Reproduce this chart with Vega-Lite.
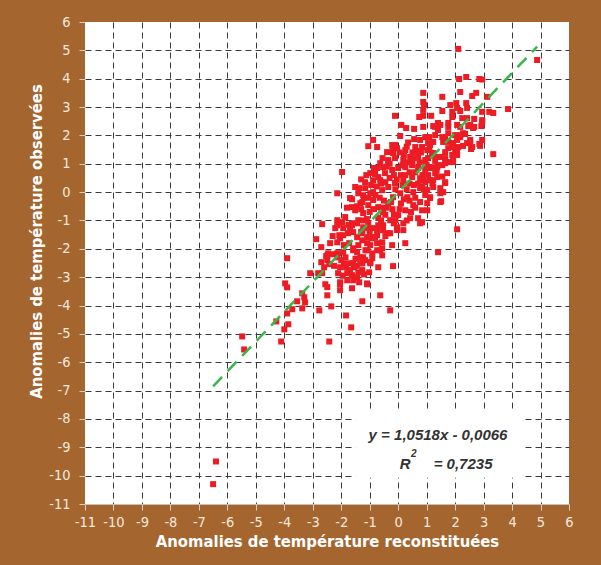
{
  "$schema": "https://vega.github.io/schema/vega-lite/v6.json",
  "width": 484,
  "height": 482,
  "autosize": "none",
  "padding": {"left": 85, "top": 22, "right": 32, "bottom": 61},
  "background": "#A5652F",
  "config": {
    "view": {"fill": "white", "stroke": null},
    "axis": {
      "labelFont": "DejaVu Sans Condensed, sans-serif",
      "labelFontSize": 14.5,
      "labelColor": "#F4E8DC",
      "labelOverlap": false,
      "labelBound": false,
      "labelFlush": false,
      "titleFont": "DejaVu Sans Condensed, sans-serif",
      "titleFontSize": 16.5,
      "titleFontWeight": "bold",
      "titleColor": "#FFFFFF",
      "grid": true,
      "gridDash": [6, 4],
      "gridWidth": 1,
      "gridColor": {"condition": {"test": "datum.value == -11 || datum.value == 6", "value": "transparent"}, "value": "#3A3A3A"},
      "tickColor": "#D9CCC0",
      "tickSize": 6,
      "domain": false
    }
  },
  "datasets": {
    "points": [
      {"x": -6.5, "y": -10.3}, {"x": -6.4, "y": -9.5}, {"x": -5.48, "y": -5.09}, {"x": -5.41, "y": -5.55},
      {"x": -4.11, "y": -5.27}, {"x": -4.0, "y": -4.84}, {"x": -3.86, "y": -4.66}, {"x": -4.28, "y": -4.56},
      {"x": -3.9, "y": -4.28}, {"x": -3.72, "y": -4.13}, {"x": -3.37, "y": -4.1}, {"x": -3.27, "y": -3.89},
      {"x": -3.55, "y": -3.85}, {"x": -3.3, "y": -3.71}, {"x": -3.37, "y": -3.57}, {"x": -3.97, "y": -3.22},
      {"x": -3.9, "y": -3.36}, {"x": -3.9, "y": -2.33}, {"x": -2.77, "y": -4.17}, {"x": -2.42, "y": -5.27},
      {"x": -2.35, "y": -4.03}, {"x": -2.49, "y": -3.64}, {"x": -2.56, "y": -3.25}, {"x": -1.83, "y": -4.35},
      {"x": -1.65, "y": -4.77}, {"x": -1.26, "y": -3.85}, {"x": -0.63, "y": -3.64}, {"x": -0.28, "y": -4.17},
      {"x": 1.4, "y": -2.12}, {"x": 2.07, "y": -1.31}, {"x": 3.34, "y": 1.34}, {"x": 3.86, "y": 2.93},
      {"x": 4.88, "y": 4.66}, {"x": 2.11, "y": 5.05}, {"x": -3.09, "y": -2.86}, {"x": -2.81, "y": -2.86},
      {"x": -2.7, "y": -2.47}, {"x": -2.67, "y": -1.13}, {"x": -2.88, "y": -1.66}, {"x": -2.49, "y": -2.23},
      {"x": -2.42, "y": -2.54}, {"x": -2.6, "y": -2.65}, {"x": -2.53, "y": -2.26}, {"x": -2.39, "y": -1.8},
      {"x": -2.04, "y": -3.25}, {"x": -1.62, "y": -3.39}, {"x": -1.09, "y": -3.25}, {"x": -1.02, "y": -2.83},
      {"x": -0.56, "y": -2.23}, {"x": -0.18, "y": -2.61}, {"x": 0.25, "y": -1.8}, {"x": 0.77, "y": -1.1},
      {"x": 0.84, "y": -1.06}, {"x": 0.84, "y": -0.64}, {"x": 1.02, "y": -0.39}, {"x": 1.51, "y": -0.32},
      {"x": 1.12, "y": -0.18}, {"x": 1.48, "y": 0.14}, {"x": 1.58, "y": 0.0},
      {"x": -2.28, "y": -2.19}, {"x": -2.11, "y": -2.16}, {"x": -1.93, "y": -2.12}, {"x": -2.0, "y": -2.4},
      {"x": -1.83, "y": -2.65}, {"x": -1.69, "y": -2.51}, {"x": -1.55, "y": -2.65}, {"x": -1.72, "y": -2.83},
      {"x": -1.62, "y": -2.93}, {"x": -1.44, "y": -3.0}, {"x": -1.37, "y": -3.18}, {"x": -1.79, "y": -3.11},
      {"x": -1.26, "y": -2.51}, {"x": -1.16, "y": -2.4}, {"x": -0.98, "y": -2.51}, {"x": -1.33, "y": -2.3},
      {"x": -1.44, "y": -2.12}, {"x": -1.58, "y": -1.98}, {"x": -1.4, "y": -1.87}, {"x": -1.72, "y": -1.8},
      {"x": -1.9, "y": -1.87}, {"x": -2.14, "y": -1.77}, {"x": -2.04, "y": -1.63}, {"x": -1.93, "y": -1.52},
      {"x": -1.76, "y": -1.45}, {"x": -1.58, "y": -1.41}, {"x": -1.62, "y": -1.17}, {"x": -1.44, "y": -1.1},
      {"x": -1.23, "y": -1.24}, {"x": -1.05, "y": -1.1}, {"x": -0.88, "y": -1.27}, {"x": -0.7, "y": -1.17},
      {"x": -0.53, "y": -1.34}, {"x": -0.28, "y": -1.45}, {"x": -0.04, "y": -1.24}, {"x": 0.18, "y": -1.34},
      {"x": -0.74, "y": -1.52}, {"x": -0.91, "y": -1.63}, {"x": -1.09, "y": -1.59}, {"x": -1.26, "y": -1.7},
      {"x": -0.98, "y": -1.87}, {"x": -0.74, "y": -1.8}, {"x": -0.56, "y": -1.98}, {"x": -1.09, "y": -2.05},
      {"x": -0.91, "y": -2.16}, {"x": -0.56, "y": -1.77}, {"x": -0.21, "y": -1.87}, {"x": -1.93, "y": -1.27},
      {"x": -2.14, "y": -1.17}, {"x": -1.97, "y": -1.06}, {"x": -2.21, "y": -1.27}, {"x": -2.14, "y": -0.99},
      {"x": -1.86, "y": -0.88}, {"x": -1.62, "y": -1.1}, {"x": -1.4, "y": -0.99},
      {"x": -2.49, "y": -2.4}, {"x": -2.14, "y": -2.3}, {"x": -1.9, "y": -2.51}, {"x": -1.79, "y": -2.86},
      {"x": -1.58, "y": -2.51}, {"x": -1.26, "y": -2.75}, {"x": -1.23, "y": -2.3}, {"x": -1.58, "y": -2.05},
      {"x": -1.44, "y": -1.59}, {"x": -1.09, "y": -1.8}, {"x": -0.88, "y": -1.59}, {"x": -0.74, "y": -2.05},
      {"x": -0.91, "y": -2.33}, {"x": -0.7, "y": -2.65}, {"x": -1.09, "y": -3.22}, {"x": -1.58, "y": -3.11},
      {"x": -2.04, "y": -3.18}, {"x": -2.11, "y": -2.86}, {"x": -2.67, "y": -2.86}, {"x": -2.07, "y": -1.52},
      {"x": -2.46, "y": -2.16}, {"x": -2.14, "y": -2.16}, {"x": -2.04, "y": -2.65}, {"x": -1.69, "y": -2.75},
      {"x": -1.4, "y": -2.83}, {"x": -1.33, "y": -2.51}, {"x": -0.98, "y": -2.47}, {"x": -2.7, "y": -1.94},
      {"x": -2.49, "y": -3.35}, {"x": -2.04, "y": -3.46}, {"x": -0.63, "y": -2.05}, {"x": -1.2, "y": -2.9},
      {"x": -1.85, "y": -2.3}, {"x": -1.5, "y": -2.35}, {"x": -1.15, "y": -2.05}, {"x": -1.3, "y": -1.4},
      {"x": -1.75, "y": -1.15}, {"x": -1.0, "y": -1.45}, {"x": -0.45, "y": -1.55}, {"x": -0.15, "y": -1.1},
      {"x": -2.3, "y": -1.55}, {"x": -2.25, "y": -2.6}, {"x": -1.95, "y": -2.95}, {"x": -1.45, "y": -2.6},
      {"x": 0.07, "y": 1.98}, {"x": -0.21, "y": 1.66}, {"x": -0.39, "y": 1.41}, {"x": -0.04, "y": 1.55},
      {"x": 0.25, "y": 1.48}, {"x": 0.6, "y": 1.59}, {"x": 0.77, "y": 1.84}, {"x": 1.02, "y": 1.94},
      {"x": 1.12, "y": 1.66}, {"x": 1.3, "y": 2.01}, {"x": 1.55, "y": 1.94}, {"x": 1.76, "y": 2.08},
      {"x": 1.93, "y": 1.73}, {"x": 2.0, "y": 1.48}, {"x": 1.65, "y": 1.41}, {"x": 1.48, "y": 1.24},
      {"x": 1.19, "y": 1.31}, {"x": 0.95, "y": 1.13}, {"x": 0.7, "y": 1.24}, {"x": 0.42, "y": 1.24},
      {"x": 0.18, "y": 1.13}, {"x": -0.11, "y": 1.2}, {"x": -0.35, "y": 1.13}, {"x": -0.63, "y": 1.02},
      {"x": -0.74, "y": 0.85}, {"x": -0.98, "y": 0.67}, {"x": -1.12, "y": 0.6}, {"x": -0.88, "y": 0.42},
      {"x": -0.7, "y": 0.53}, {"x": -0.46, "y": 0.67}, {"x": -0.21, "y": 0.78}, {"x": 0.0, "y": 0.85},
      {"x": 0.25, "y": 0.88}, {"x": 0.49, "y": 0.95}, {"x": 0.7, "y": 0.85}, {"x": 0.95, "y": 0.78},
      {"x": 1.19, "y": 0.88}, {"x": 1.4, "y": 0.95}, {"x": 1.65, "y": 1.02}, {"x": 1.83, "y": 1.06},
      {"x": 2.07, "y": 1.31}, {"x": 1.72, "y": 0.67}, {"x": 1.37, "y": 0.53}, {"x": 1.12, "y": 0.42},
      {"x": 0.77, "y": 0.49}, {"x": 0.49, "y": 0.53}, {"x": 0.18, "y": 0.42}, {"x": -0.11, "y": 0.32},
      {"x": -0.35, "y": 0.18}, {"x": -0.56, "y": 0.07}, {"x": -0.88, "y": 0.0}, {"x": -1.16, "y": 0.14},
      {"x": -1.4, "y": -0.04}, {"x": -1.69, "y": -0.21}, {"x": -1.51, "y": 0.18}, {"x": -1.97, "y": 0.71},
      {"x": -2.14, "y": -0.04}, {"x": -1.51, "y": -0.64}, {"x": -1.23, "y": -0.74}, {"x": -1.05, "y": -0.46},
      {"x": -1.26, "y": -0.35}, {"x": -0.88, "y": -0.28}, {"x": -0.7, "y": -0.53}, {"x": -0.53, "y": -0.71},
      {"x": -0.35, "y": -0.39}, {"x": -0.18, "y": -0.18}, {"x": 0.07, "y": -0.04}, {"x": 0.32, "y": -0.18},
      {"x": 0.53, "y": 0.0}, {"x": 0.77, "y": 0.14}, {"x": 1.02, "y": 0.07}, {"x": 1.23, "y": 0.18},
      {"x": 1.48, "y": -0.04}, {"x": 1.65, "y": 0.32}, {"x": 1.12, "y": -0.21}, {"x": 0.77, "y": -0.35},
      {"x": 0.53, "y": -0.46}, {"x": 0.25, "y": -0.64}, {"x": 0.0, "y": -0.81}, {"x": -0.28, "y": -0.99},
      {"x": -0.53, "y": -1.17}, {"x": -0.74, "y": -1.34}, {"x": -1.05, "y": -1.27}, {"x": -1.26, "y": -1.45},
      {"x": -1.69, "y": -1.34}, {"x": 0.18, "y": -1.1}, {"x": 0.42, "y": -0.92}, {"x": 0.7, "y": -0.92},
      {"x": 1.02, "y": -0.64}, {"x": 1.48, "y": -0.35}, {"x": -0.04, "y": -1.34}, {"x": -0.35, "y": -1.45},
      {"x": -0.81, "y": -1.59},
      {"x": -0.6, "y": 0.3}, {"x": -0.3, "y": 0.5}, {"x": 0.1, "y": 0.6}, {"x": 0.4, "y": 0.3},
      {"x": 0.6, "y": 0.7}, {"x": 0.9, "y": 0.4}, {"x": -0.8, "y": -0.1}, {"x": -0.5, "y": -0.3},
      {"x": -0.1, "y": 0.1}, {"x": 0.3, "y": 0.1}, {"x": 0.6, "y": -0.2}, {"x": 0.9, "y": 0.1},
      {"x": -0.2, "y": -0.6}, {"x": 0.1, "y": -0.4}, {"x": 0.45, "y": -0.7}, {"x": -0.45, "y": -0.8},
      {"x": -0.7, "y": -0.9}, {"x": -1.0, "y": -0.7}, {"x": -1.2, "y": -0.2}, {"x": -0.95, "y": 0.25},
      {"x": -0.3, "y": 1.0}, {"x": 0.2, "y": 1.3}, {"x": 0.5, "y": 1.0}, {"x": 0.8, "y": 1.4},
      {"x": 1.1, "y": 1.5}, {"x": 1.3, "y": 1.1}, {"x": 1.0, "y": 0.95}, {"x": -0.55, "y": 1.2},
      {"x": -0.2, "y": 1.45}, {"x": 0.35, "y": 1.75}, {"x": 0.65, "y": 1.45}, {"x": 1.35, "y": 0.75},
      {"x": 1.55, "y": 0.55}, {"x": 1.2, "y": 0.3}, {"x": 0.95, "y": -0.1}, {"x": 0.6, "y": -0.55},
      {"x": 0.3, "y": -1.0}, {"x": -0.1, "y": -1.0}, {"x": -0.6, "y": -0.55}, {"x": -0.85, "y": 0.85},
      {"x": -1.3, "y": 0.45}, {"x": -1.45, "y": -0.5}, {"x": -1.8, "y": -0.55},
      {"x": -0.4, "y": 0.9}, {"x": -0.15, "y": 0.6}, {"x": 0.15, "y": 0.25}, {"x": 0.4, "y": 0.7},
      {"x": 0.7, "y": 0.3}, {"x": -0.25, "y": -0.35}, {"x": 0.2, "y": -0.25}, {"x": -0.65, "y": -0.2},
      {"x": -1.1, "y": -0.95}, {"x": -0.85, "y": -0.6}, {"x": 0.35, "y": 1.05}, {"x": 0.05, "y": 1.4},
      {"x": 0.3, "y": 1.6}, {"x": 0.5, "y": 1.4}, {"x": 0.75, "y": 1.05}, {"x": 0.15, "y": 0.95},
      {"x": -0.05, "y": 0.45}, {"x": 0.25, "y": 0.6}, {"x": 0.55, "y": 0.25}, {"x": -0.45, "y": 0.35},
      {"x": -0.75, "y": 0.2}, {"x": -1.05, "y": -0.2}, {"x": -0.4, "y": -0.55}, {"x": -0.15, "y": -0.8},
      {"x": -0.6, "y": -1.0}, {"x": -1.3, "y": -0.6}, {"x": -1.2, "y": -1.0}, {"x": 0.05, "y": -0.6},
      {"x": 0.4, "y": -0.3}, {"x": 0.85, "y": 0.6}, {"x": 1.05, "y": 1.2}, {"x": 0.55, "y": 1.2},
      {"x": -0.11, "y": 2.69}, {"x": 0.11, "y": 2.37}, {"x": -0.88, "y": 1.84}, {"x": -0.74, "y": 1.59},
      {"x": -1.05, "y": 1.62}, {"x": -1.16, "y": 0.35}, {"x": -0.81, "y": 0.64}, {"x": -0.53, "y": 0.88},
      {"x": -0.35, "y": 1.06}, {"x": -0.18, "y": 1.38}, {"x": -1.62, "y": -0.25}, {"x": -1.62, "y": -0.53},
      {"x": -1.23, "y": -0.11}, {"x": -1.33, "y": -0.39}, {"x": -0.98, "y": -0.04}, {"x": -1.37, "y": 0.14},
      {"x": -0.63, "y": 0.42},
      {"x": 2.14, "y": 3.99}, {"x": 2.39, "y": 4.06}, {"x": 2.85, "y": 3.99}, {"x": 2.95, "y": 3.97},
      {"x": 0.88, "y": 3.5}, {"x": 1.55, "y": 3.36}, {"x": 2.18, "y": 3.53}, {"x": 2.74, "y": 3.5},
      {"x": 2.6, "y": 3.39}, {"x": 0.88, "y": 3.18}, {"x": 0.91, "y": 3.07}, {"x": 0.88, "y": 2.9},
      {"x": 1.83, "y": 3.07}, {"x": 2.04, "y": 3.14}, {"x": 2.07, "y": 2.97}, {"x": 2.39, "y": 3.14},
      {"x": 2.42, "y": 2.97}, {"x": 2.18, "y": 2.86}, {"x": 1.9, "y": 2.83}, {"x": 3.13, "y": 3.36},
      {"x": 3.2, "y": 2.83}, {"x": 3.34, "y": 2.79}, {"x": 2.95, "y": 2.83}, {"x": 0.74, "y": 2.65},
      {"x": 0.88, "y": 2.69}, {"x": 1.16, "y": 2.69}, {"x": 1.55, "y": 2.86}, {"x": 1.9, "y": 2.65},
      {"x": 2.25, "y": 2.61}, {"x": 2.42, "y": 2.61}, {"x": 2.67, "y": 2.58}, {"x": 2.95, "y": 2.54},
      {"x": 2.92, "y": 2.33}, {"x": 2.67, "y": 2.3}, {"x": 2.46, "y": 2.33}, {"x": 2.18, "y": 2.3},
      {"x": 2.07, "y": 2.37}, {"x": 1.76, "y": 2.3}, {"x": 1.4, "y": 2.44}, {"x": 1.23, "y": 2.33},
      {"x": 0.88, "y": 2.3}, {"x": 0.56, "y": 2.23}, {"x": 0.28, "y": 2.26}, {"x": 0.56, "y": 1.87},
      {"x": -0.11, "y": 1.66}, {"x": 1.09, "y": 1.94}, {"x": 1.4, "y": 2.19}, {"x": 1.65, "y": 1.94},
      {"x": 1.05, "y": 1.73}, {"x": 0.84, "y": 1.59}, {"x": 1.23, "y": 1.77}, {"x": 1.58, "y": 1.77},
      {"x": 1.76, "y": 1.77}, {"x": 1.9, "y": 1.59}, {"x": 2.07, "y": 1.84}, {"x": 2.18, "y": 1.94},
      {"x": 2.35, "y": 2.05}, {"x": 2.53, "y": 1.77}, {"x": 2.6, "y": 1.59}, {"x": 2.85, "y": 1.7},
      {"x": 2.95, "y": 1.84}, {"x": 2.11, "y": 1.59}, {"x": 2.28, "y": 1.63},
      {"x": 1.3, "y": 2.3}, {"x": 1.48, "y": 2.37}, {"x": 1.76, "y": 2.44}, {"x": 2.53, "y": 2.37},
      {"x": 2.95, "y": 2.47}, {"x": 2.63, "y": 2.26}, {"x": 2.28, "y": 2.08}, {"x": 2.0, "y": 2.01},
      {"x": 1.93, "y": 1.66}, {"x": 2.07, "y": 1.48}, {"x": 2.56, "y": 1.52}, {"x": 2.88, "y": 1.63},
      {"x": 0.95, "y": 1.94}, {"x": 1.02, "y": 1.48}, {"x": 1.23, "y": 1.38}, {"x": 1.4, "y": 1.24},
      {"x": 1.65, "y": 1.2}, {"x": 1.9, "y": 1.31}, {"x": 1.93, "y": 1.06}, {"x": 0.95, "y": 1.02},
      {"x": 1.12, "y": 0.85}, {"x": 1.37, "y": 0.88}, {"x": 1.55, "y": 0.95}, {"x": 1.05, "y": 0.6},
      {"x": 1.3, "y": 0.67}, {"x": 1.23, "y": 0.42}, {"x": 1.65, "y": 0.35}, {"x": 0.95, "y": 0.35},
      {"x": 0.84, "y": 0.18}, {"x": 2.42, "y": 1.73}, {"x": 1.76, "y": 1.55}, {"x": 1.93, "y": 1.24},
      {"x": 2.18, "y": 2.01}, {"x": 2.53, "y": 1.84}
    ],
    "fit": [{"x": -6.5, "y": -6.85}, {"x": 4.88, "y": 5.13}],
    "box": [{"x": -1.51, "x2": 4.39, "y": -7.7, "y2": -10.07}],
    "eq": [
      {"x": 1.4, "y": -8.55, "t": "y = 1,0518x - 0,0066"},
      {"x": 0.25, "y": -9.6, "t": "R"},
      {"x": 2.28, "y": -9.6, "t": "= 0,7235"}
    ],
    "sup": [{"x": 0.55, "y": -9.25, "t": "2"}]
  },
  "encoding": {
    "x": {
      "field": "x", "type": "quantitative",
      "scale": {"domain": [-11, 6], "nice": false, "zero": false},
      "axis": {
        "values": [-11, -10, -9, -8, -7, -6, -5, -4, -3, -2, -1, 0, 1, 2, 3, 4, 5, 6],
        "labelExpr": "datum.value + ''",
        "labelOverlap": false,
        "labelSeparation": 0,
        "title": "Anomalies de température reconstituées",
        "labelPadding": 5, "titlePadding": 5,
        "domain": true, "domainColor": "#C8C0B8"
      }
    },
    "y": {
      "field": "y", "type": "quantitative",
      "scale": {"domain": [-11, 6], "nice": false, "zero": false},
      "axis": {
        "values": [-11, -10, -9, -8, -7, -6, -5, -4, -3, -2, -1, 0, 1, 2, 3, 4, 5, 6],
        "labelExpr": "datum.value + ''",
        "labelOverlap": false,
        "labelSeparation": 0,
        "title": "Anomalies de température observées",
        "labelPadding": 9, "titlePadding": 4, "titleY": 219
      }
    }
  },
  "layer": [
    {
      "data": {"name": "points"},
      "mark": {"type": "point", "shape": "square", "filled": true, "size": 36, "color": "#ED1C24", "opacity": 1}
    },
    {
      "data": {"name": "fit"},
      "mark": {"type": "line", "color": "#39B54A", "strokeWidth": 2.5, "strokeDash": [13, 8]}
    },
    {
      "data": {"name": "box"},
      "mark": {"type": "rect", "color": "white"},
      "encoding": {
        "x2": {"field": "x2"},
        "y2": {"field": "y2"}
      }
    },
    {
      "data": {"name": "eq"},
      "mark": {"type": "text", "font": "Liberation Sans", "fontSize": 15, "fontWeight": "bold", "fontStyle": "italic", "color": "#333333", "align": "center", "baseline": "middle"},
      "encoding": {
        "text": {"field": "t"}
      }
    },
    {
      "data": {"name": "sup"},
      "mark": {"type": "text", "font": "Liberation Sans", "fontSize": 10, "fontWeight": "bold", "fontStyle": "italic", "color": "#333333", "align": "center", "baseline": "middle"},
      "encoding": {
        "text": {"field": "t"}
      }
    }
  ]
}
